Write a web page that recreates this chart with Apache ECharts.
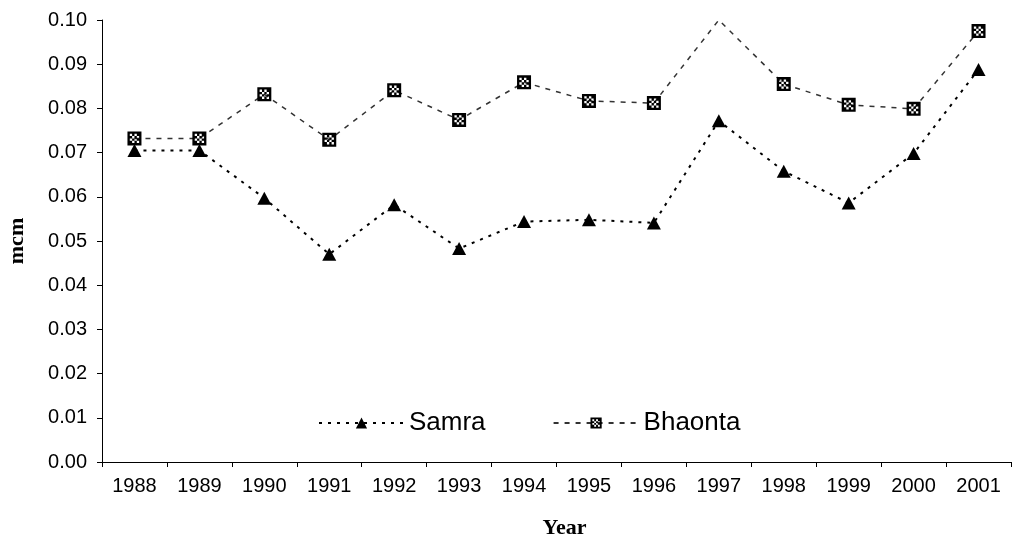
<!DOCTYPE html>
<html>
<head>
<meta charset="utf-8">
<script src="https://cdn.jsdelivr.net/npm/echarts@6/dist/echarts.min.js"></script>
<style>
    html, body { margin: 0; padding: 0; background: #fff; }
    #chart { width: 1014px; height: 544px; }
</style>
</head>
<body>
<div id="chart"></div>
<script>
    var years = ['1988', '1989', '1990', '1991', '1992', '1993', '1994', '1995', '1996', '1997', '1998', '1999', '2000', '2001'];
    var samra = [0.0705, 0.0705, 0.0597, 0.0470, 0.0582, 0.0483, 0.0544, 0.0548, 0.0541, 0.0772, 0.0658, 0.0586, 0.0698, 0.0888];
    var bhaonta = [0.0732, 0.0732, 0.0832, 0.0729, 0.0841, 0.0774, 0.0859, 0.0817, 0.0812, 0.1000, 0.0855, 0.0808, 0.0799, 0.0975];
    var yTicks = ['0.00', '0.01', '0.02', '0.03', '0.04', '0.05', '0.06', '0.07', '0.08', '0.09', '0.10'];

    // black square with a dotted (checker) fill, holes are reversed sub paths
    var checkSquare = 'path://M0,0H12V12H0Z' +
        'M2,2V4H4V2Z M6,2V4H8V2Z M4,4V6H6V4Z M8,4V6H10V4Z' +
        'M2,6V8H4V6Z M6,6V8H8V6Z M4,8V10H6V8Z M8,8V10H10V8Z';

    var sans = 'Liberation Sans';
    var serif = 'Liberation Serif';

    var chart = echarts.init(document.getElementById('chart'));
    chart.setOption({
        animation: false,
        grid: {left: 102, right: 3, top: 20, bottom: 82, outerBoundsMode: 'none'},
        legend: {
            data: ['Samra', 'Bhaonta'],
            left: 313,
            top: 405,
            itemWidth: 85,
            itemHeight: 14,
            itemGap: 67,
            textStyle: {fontFamily: sans, fontSize: 26, color: '#000'}
        },
        xAxis: {
            type: 'category',
            data: years,
            boundaryGap: true,
            name: 'Year',
            nameLocation: 'middle',
            nameGap: 55,
            nameTextStyle: {fontFamily: serif, fontWeight: 'bold', fontSize: 22, color: '#000', padding: [0, 0, 0, 16]},
            axisLine: {lineStyle: {color: '#000', width: 1}},
            axisTick: {show: true, length: 5, interval: 0, lineStyle: {color: '#000'}},
            axisLabel: {fontFamily: sans, fontSize: 20, color: '#000', margin: 14, interval: 0}
        },
        yAxis: {
            type: 'value',
            min: 0,
            max: 0.1,
            interval: 0.01,
            name: 'mcm',
            nameLocation: 'middle',
            nameRotate: 90,
            nameGap: 74,
            nameTextStyle: {fontFamily: serif, fontWeight: 'bold', fontSize: 22, color: '#000'},
            splitLine: {show: false},
            axisLine: {show: true, lineStyle: {color: '#000', width: 1}},
            axisTick: {show: true, length: 5, lineStyle: {color: '#000'}},
            axisLabel: {
                fontFamily: sans, fontSize: 20, color: '#000', margin: 15,
                formatter: function (v) { return yTicks[Math.round(v * 100)]; }
            }
        },
        series: [
            {
                name: 'Samra',
                type: 'line',
                data: samra,
                symbol: 'triangle',
                symbolSize: [14, 13],
                itemStyle: {color: '#000'},
                lineStyle: {color: '#000', width: 2, type: [3, 6]}
            },
            {
                name: 'Bhaonta',
                type: 'line',
                data: bhaonta.map(function (v, i) {
                    // the 1997 marker is not visible at the top edge
                    return i === 9 ? {value: v, symbol: 'none'} : v;
                }),
                symbol: checkSquare,
                symbolSize: 14,
                clip: false,
                itemStyle: {color: '#000'},
                lineStyle: {color: '#333', width: 1.5, type: [5, 6]}
            }
        ]
    });
</script>
</body>
</html>
